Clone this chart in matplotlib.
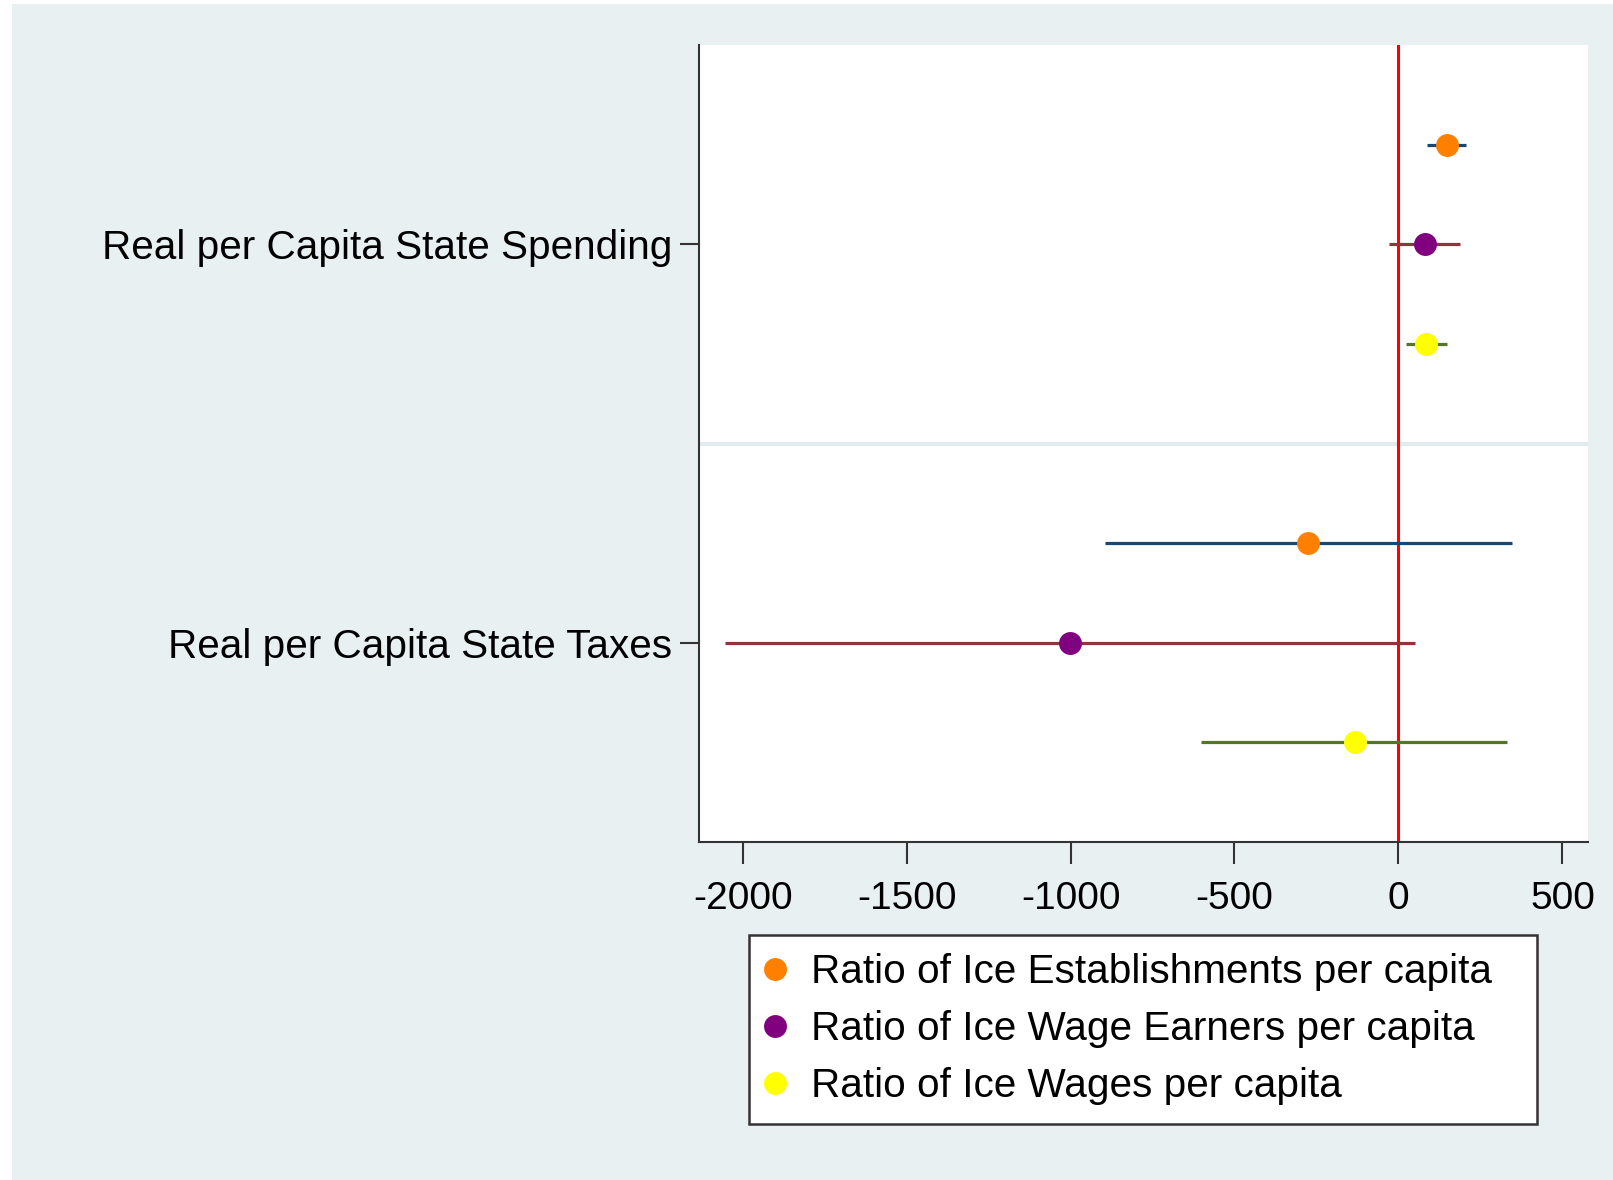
import matplotlib
matplotlib.use("Agg")
import matplotlib.pyplot as plt
from matplotlib.patches import Rectangle
from matplotlib.lines import Line2D

plt.rcParams['font.family'] = ['Liberation Sans', 'DejaVu Sans']

# outcome variables (top to bottom) and the three regressors
outcomes = ["Real per Capita State Spending", "Real per Capita State Taxes"]
series = ["Ratio of Ice Establishments per capita",
          "Ratio of Ice Wage Earners per capita",
          "Ratio of Ice Wages per capita"]

# point estimates and 95% CI, one list per series: [spending, taxes]
est_estab = [147, -276]
lo_estab = [86, -895]
hi_estab = [206, 345]

est_earn = [80, -1002]
lo_earn = [-29, -2053]
hi_earn = [187, 50]

est_wage = [85, -134]
lo_wage = [24, -601]
hi_wage = [147, 332]

xticks = [-2000, -1500, -1000, -500, 0, 500]

marker_cols = ["#FF7F00", "#800080", "#FFFF00"]
ci_cols = ["#1A476F", "#90353B", "#55752F"]
offsets = [-0.25, 0, 0.25]
bg = "#E8F0F2"

W, H = 1613, 1180
fig = plt.figure(figsize=(W / 100, H / 100), dpi=100, facecolor="white")
fig.patches.append(Rectangle((12 / W, 0), 1 - 12 / W, 1 - 4 / H,
                             transform=fig.transFigure, facecolor=bg,
                             edgecolor="none", zorder=-10))

ax = fig.add_axes([699 / W, 1 - 842 / H, (1588 - 699) / W, (842 - 45) / H])
ax.set_facecolor("white")

ests = [est_estab, est_earn, est_wage]
los = [lo_estab, lo_earn, lo_wage]
his = [hi_estab, hi_earn, hi_wage]

ax.axhline(1.5, color="#E2EBEE", lw=3, zorder=1)
ax.axvline(0, color="#FF0000", lw=2.2, zorder=2)

handles = []
for k in range(3):
    ys = [i + 1 + offsets[k] for i in range(len(outcomes))]
    ax.hlines(ys, los[k], his[k], color=ci_cols[k], lw=2.3, zorder=3)
    ax.plot(ests[k], ys, 'o', color=marker_cols[k], ms=16.5, mew=0, zorder=4)
    handles.append(Line2D([], [], marker='o', color=marker_cols[k], ls='none',
                          ms=16.5, mew=0, label=series[k]))

ax.set_xlim(-2133, 578)
ax.set_ylim(2.5, 0.5)
ax.set_yticks([1, 2])
ax.set_yticklabels(outcomes)
ax.set_xticks(xticks)
ax.set_xticklabels([str(t) for t in xticks])
ax.tick_params(axis='x', labelsize=28, length=16, width=1.5, pad=12, color="#333333")
ax.tick_params(axis='y', labelsize=29.2, length=14, width=1.5, pad=5, color="#333333")

for s in ["top", "right"]:
    ax.spines[s].set_visible(False)
for s in ["left", "bottom"]:
    ax.spines[s].set_color("#333333")
    ax.spines[s].set_linewidth(1.5)

lx0, lx1 = 749 / W, 1537 / W
ly1 = 1 - 935 / H
leg = fig.legend(handles=handles, loc="upper left",
                 bbox_to_anchor=(lx0, ly1 - 0.2, lx1 - lx0, 0.2), mode="expand",
                 fontsize=29.2, frameon=True, fancybox=False, framealpha=1,
                 facecolor="white",
                 handlelength=0.36, handletextpad=0.73, labelspacing=0.47,
                 borderpad=0.45, borderaxespad=0)
leg.get_frame().set_edgecolor("#333333")
leg.get_frame().set_linewidth(1.8)

plt.savefig("out.png", dpi=100, facecolor=fig.get_facecolor())
